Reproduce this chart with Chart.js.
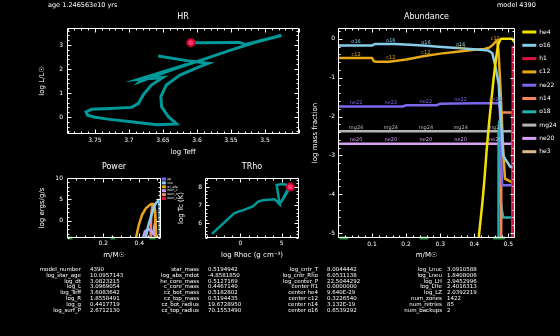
<!DOCTYPE html>
<html><head><meta charset="utf-8">
<script src="https://cdn.jsdelivr.net/npm/chart.js@4/dist/chart.umd.min.js"></script>
<style>
html,body{margin:0;padding:0;background:#000;}
#wrap{position:relative;width:560px;height:336px;background:#000;overflow:hidden;font-family:"DejaVu Sans",sans-serif;color:#fff;}
canvas{position:absolute;}
.t{position:absolute;white-space:nowrap;color:#fff;will-change:transform;-webkit-font-smoothing:antialiased;}
.col{position:absolute;top:267px;font-size:5.5px;line-height:5.8px;white-space:nowrap;color:#fff;will-change:transform;}
.nm{text-align:right;width:120px;}
</style></head><body>
<div id="wrap">
  <div class="t" id="age" style="left:48px;top:1px;font-size:6.5px;"></div>
  <div class="t" id="model" style="left:497px;top:1px;font-size:6.5px;"></div>
  <canvas id="hr" width="305" height="150" style="left:0;top:10px"></canvas>
  <canvas id="trho" width="135" height="103" style="left:170px;top:160px"></canvas>
  <canvas id="power" width="181" height="103" style="left:0;top:160px"></canvas>
  <canvas id="abund" width="255" height="252" style="left:305px;top:10px"></canvas>
  <div id="table"></div>
</div>
<script>
// ---------------- data ----------------
const ageText = 'age 1.246563e10 yrs';
const modelText = 'model 4390';

// HR diagram track
const hrLogTeff = [3.657,3.615,3.583,3.596,3.625,3.645,3.653,3.652,3.642,3.630,3.659,3.694,3.728,3.750,3.761,3.763,3.755,3.728,3.696,3.686,3.679,3.667,3.650,3.686,3.615,3.684,3.679,3.635,3.596,3.547,3.507,3.476,3.507,3.529,3.537,3.596,3.609];
const hrLogL    = [2.54,2.35,2.24,2.10,1.75,1.33,0.85,0.43,0.01,-0.29,-0.32,-0.21,-0.10,-0.01,0.07,0.21,0.32,0.35,0.40,0.57,0.92,1.33,1.65,1.57,2.19,1.47,1.60,1.99,2.35,2.82,3.18,3.40,3.17,3.02,3.11,3.10,3.10];
const hrXTicks = [3.75,3.7,3.65,3.6,3.55,3.5];
const hrYTicks = [0,1,2,3];

// central T - Rho track
const trhoLogRho = [-3.45,-2.35,-0.73,0.49,1.5,2.11,2.72,4.15,4.76,4.39,5.04,5.98,4.88,6.05];
const trhoLogT   = [5.43,5.89,6.57,6.76,6.94,7.19,7.28,7.33,7.06,8.11,8.17,8.09,7.13,8.00];
const trhoXTicks = [0,5];
const trhoYTicks = [6,7,8];

// Power profiles
const powerXTicks = [0.2,0.4];
const powerYTicks = [0,5,10];
const powerNames = ['pp','cno','tri_alfa','burn_c','burn_n','burn_o'];
const ppMass = [0.517,0.5175];            const ppLog = [-4,6.8];
const cnoMass = [0.436,0.447,0.458,0.47,0.481,0.495,0.504,0.51,0.512,0.514];
const cnoLog  = [-3.8,-1.5,0.2,1.8,3.3,4.3,4.7,4.2,3.3,-4];
const triMass = [0.382,0.397,0.415,0.436,0.463,0.477,0.486,0.49,0.493];
const triLog  = [-3.8,-0.9,1.4,2.95,3.9,3.95,2.6,-0.5,-4];
const burnCMass = [0.42,0.43,0.449,0.463,0.475,0.481,0.49,0.495];
const burnCLog  = [-4,-2.5,-1.9,-2.3,-3,-1.7,-3.5,-4];
const burnNMass = [0.462,0.466,0.472,0.48,0.486,0.49];
const burnNLog  = [-4,1.5,3.5,3.7,2.5,-4];
const burnOMass = [0.516,0.5165];         const burnOLog = [-4,2.6];

// mixing regions (bottom markers)
const mixStart = [0.005,0.24,0.455];
const mixEnd   = [0.03,0.265,0.49];

// Abundance profiles
const abundXTicks = [0.1,0.2,0.3,0.4,0.5];
const abundYTicks = [0,-1,-2,-3,-4,-5];
const he4Mass = [0.41,0.413,0.418,0.424,0.43,0.436,0.443,0.45,0.457,0.464,0.47,0.476,0.48,0.511,0.5127];
const he4Log  = [-5.5,-5.13,-4.7,-4.2,-3.6,-2.9,-2.2,-1.6,-1.0,-0.5,-0.15,-0.02,0,0,-0.02];
const o16Mass = [0,0.1,0.109,0.168,0.21,0.26,0.294,0.36,0.418,0.441,0.453,0.462,0.472,0.475,0.48,0.485,0.491,0.506,0.512];
const o16Log  = [-0.17,-0.17,-0.13,-0.13,-0.15,-0.18,-0.2,-0.24,-0.28,-0.3,-0.37,-0.71,-1.18,-1.74,-2.33,-3.0,-3.1,-3.3,-3.3];
const h1Mass = [0.5124,0.5126,0.5128,0.5195];
const h1Log  = [-5.5,-1.9,-0.2,-0.2];
const c12Mass = [0,0.1,0.105,0.11,0.15,0.2,0.25,0.3,0.35,0.4,0.43,0.445,0.455,0.462,0.467,0.471,0.474,0.477,0.48,0.485,0.49,0.512];
const c12Log  = [-0.49,-0.49,-0.57,-0.59,-0.59,-0.53,-0.45,-0.38,-0.33,-0.28,-0.26,-0.22,-0.15,-0.08,-0.04,-0.3,-0.8,-1.3,-1.9,-2.9,-3.6,-3.7];
const ne22Mass = [0,0.19,0.2,0.29,0.3,0.4,0.472,0.475,0.477,0.479,0.482,0.512];
const ne22Log  = [-1.74,-1.74,-1.71,-1.71,-1.67,-1.66,-1.66,-1.8,-2.5,-3.3,-3.77,-3.77];
const n14Mass = [0.4785,0.479,0.5125,0.5128,0.5195];
const n14Log  = [-5.5,-1.9,-1.9,-3.0,-3.0];
const o18Mass = [0.47,0.4705,0.472,0.474,0.476,0.4765,0.478,0.481,0.485,0.5125];
const o18Log  = [-5.5,-3.5,-2.4,-2.1,-2.5,-4.1,-4.15,-4.4,-4.6,-4.6];
const mg24Mass = [0,0.5195];  const mg24Log = [-2.38,-2.38];
const ne20Mass = [0,0.5195];  const ne20Log = [-2.7,-2.7];
const he3Mass = [0.5126,0.5127,0.5195]; const he3Log = [-5.5,-2.4,-4.3];
const lineLabelMass = {
  o16:[0.053,0.155,0.258,0.36],
  c12:[0.053,0.155,0.258,0.36,0.462],
  ne22:[0.053,0.155,0.258,0.36,0.462],
  mg24:[0.053,0.155,0.258,0.36,0.462],
  ne20:[0.053,0.155,0.258,0.36,0.462]
};

// text table
const col1Names = ['model_number','log_star_age','log_dt','log_L','log_Teff','log_R','log_g','log_surf_P'];
const col1Vals  = ['4390','10.0957143','3.0823215','3.0969054','3.6083642','1.8558491','0.4417719','2.6712130'];
const col2Names = ['star_mass','log_abs_mdot','he_core_mass','c_core_mass','cz_bot_mass','cz_top_mass','cz_bot_radius','cz_top_radius'];
const col2Vals  = ['0.5194942','-4.8581850','0.5127169','0.4467140','0.5182802','0.5194435','19.6728950','70.1553490'];
const col3Names = ['log_cntr_T','log_cntr_Rho','log_center_P','center h1','center he4','center c12','center n14','center o16'];
const col3Vals  = ['8.0044442','6.0531138','22.5044292','0.0000000','9.640E-29','0.3226540','3.132E-19','0.6539292'];
const col4Names = ['log_Lnuc','log_Lneu','log_LH','log_LHe','log_LZ','num_zones','num_retries','num_backups'];
const col4Vals  = ['3.0910588','1.8408006','2.9452996','2.4016313','2.0392219','1422','85','2'];

// ---------------- helpers ----------------
Chart.defaults.font.family = '"DejaVu Sans", sans-serif';
Chart.defaults.color = '#fff';
const pts = (xs, ys) => xs.map((x,i) => ({x:x, y:ys[i]}));
const mixPts = (yv) => { const o=[]; mixStart.forEach((s,i)=>{ o.push({x:s,y:yv},{x:mixEnd[i],y:yv},{x:mixEnd[i],y:null}); }); return o; };

function scale(o){
  return {
    type:'linear', min:o.min, max:o.max, reverse:!!o.reverse,
    afterBuildTicks: s => { s.ticks = o.ticks.map(v=>({value:v})); },
    afterFit: s => { if (o.isY) s.width = o.size; else s.height = o.size; },
    grid:{display:false, drawTicks:false}, border:{display:false},
    ticks:{color:'#fff', font:{size:6}, padding:o.tickPad, autoSkip:false, maxRotation:0, minRotation:0, callback:v=>String(v)},
    title:{display:true, text:o.title, color:'#fff', font:{size:7}, padding:o.titlePad}
  };
}
function titleOpt(text){
  return {display:true, text:text, color:'#fff', font:{size:8, weight:'normal'}, padding:{top:2.2,bottom:6.2}, fullSize:false};
}
const framePlugin = {
  id:'frame',
  afterDatasetsDraw(chart, args, o){
    const {ctx, chartArea:a} = chart; const xs=chart.scales.x, ys=chart.scales.y;
    const L=Math.round(a.left)+0.5, R=Math.round(a.right)-0.5, T=Math.round(a.top)+0.5, B=Math.round(a.bottom)-0.5;
    ctx.save(); ctx.strokeStyle='#fff'; ctx.lineWidth=1; ctx.beginPath(); ctx.rect(L,T,R-L,B-T);
    const each=(sc,minor,major,fn)=>{ const lo=Math.min(sc.min,sc.max), hi=Math.max(sc.min,sc.max);
      const n0=Math.ceil(lo/minor-1e-6), n1=Math.floor(hi/minor+1e-6);
      for(let n=n0;n<=n1;n++){ const v=n*minor; const maj=Math.abs(v/major-Math.round(v/major))<1e-6;
        fn(Math.round(sc.getPixelForValue(v))+0.5, maj?4:2); } };
    each(xs,o.xMinor,o.xMajor,(p,len)=>{ ctx.moveTo(p,B); ctx.lineTo(p,B-len); ctx.moveTo(p,T); ctx.lineTo(p,T+len); });
    each(ys,o.yMinor,o.yMajor,(p,len)=>{ ctx.moveTo(L,p); ctx.lineTo(L+len,p); ctx.moveTo(R,p); ctx.lineTo(R-len,p); });
    ctx.stroke(); ctx.restore();
  }
};
function interp(data, xv){
  for (let i=0;i<data.length-1;i++){ const a=data[i], b=data[i+1];
    if (a.y==null||b.y==null) continue;
    if ((a.x<=xv&&xv<=b.x)){ if (b.x===a.x) return a.y; return a.y+(b.y-a.y)*(xv-a.x)/(b.x-a.x); } }
  return data[data.length-1].y;
}
const labelPlugin = {
  id:'lineLabels',
  afterDatasetsDraw(chart, args, o){
    if (!o.items) return;
    const {ctx} = chart; const xs=chart.scales.x, ys=chart.scales.y;
    ctx.save(); ctx.font='5px "DejaVu Sans"'; ctx.textAlign='center'; ctx.textBaseline='bottom';
    chart.data.datasets.forEach(ds=>{ const ms=o.items[ds.label]; if(!ms) return; ctx.fillStyle=ds.borderColor;
      ms.forEach(m=>{ ctx.fillText(ds.label, xs.getPixelForValue(m), ys.getPixelForValue(interp(ds.data,m))-1); }); });
    ctx.restore();
  }
};
const base = {responsive:false, animation:false, devicePixelRatio:1, layout:{padding:0}};
const line = (label, data, color, w) => ({label, data, borderColor:color, backgroundColor:color, borderWidth:w, pointRadius:0, showLine:true, tension:0, fill:false});
const teal = '#00999a';

// ---------------- HR ----------------
new Chart(document.getElementById('hr'), {
  type:'scatter',
  data:{datasets:[
    {label:'now', data:[{x:hrLogTeff[hrLogTeff.length-1], y:hrLogL[hrLogL.length-1]}], pointRadius:3.5, backgroundColor:'#ff3a6a', borderColor:'#d4002c', borderWidth:2, showLine:false},
    line('track', pts(hrLogTeff,hrLogL), teal, 3)
  ]},
  options:Object.assign({}, base, {
    layout:{padding:{right:6}},
    plugins:{legend:{display:false}, tooltip:{enabled:false}, title:titleOpt('HR'),
      frame:{xMinor:0.01,xMajor:0.05,yMinor:0.2,yMajor:1}},
    scales:{
      x:scale({min:3.45,max:3.791,reverse:true,ticks:hrXTicks,size:26,tickPad:2.5,title:'log Teff',titlePad:{top:0,bottom:4.1}}),
      y:scale({min:-0.71,max:3.71,ticks:hrYTicks,isY:true,size:67,tickPad:4,title:'log L/L\u2609',titlePad:{top:37.8,bottom:0}})
    }
  }),
  plugins:[framePlugin]
});

// ---------------- TRho ----------------
new Chart(document.getElementById('trho'), {
  type:'scatter',
  data:{datasets:[
    {label:'now', data:[{x:trhoLogRho[trhoLogRho.length-1], y:trhoLogT[trhoLogT.length-1]}], pointRadius:3.5, backgroundColor:'#ff3a6a', borderColor:'#d4002c', borderWidth:2, showLine:false},
    line('track', pts(trhoLogRho,trhoLogT), teal, 2.5)
  ]},
  options:Object.assign({}, base, {
    layout:{padding:{right:6}},
    plugins:{legend:{display:false}, tooltip:{enabled:false}, title:titleOpt('TRho'),
      frame:{xMinor:1,xMajor:5,yMinor:0.2,yMajor:1}},
    scales:{
      x:scale({min:-4.3,max:7.1,ticks:trhoXTicks,size:25,tickPad:2,title:'log Rhoc (g cm\u207B\u00B3)',titlePad:{top:0,bottom:3.8}}),
      y:scale({min:5.2,max:8.5,ticks:trhoYTicks,isY:true,size:35,tickPad:3,title:'log Tc (K)',titlePad:{top:6.8,bottom:0}})
    }
  }),
  plugins:[framePlugin]
});

// ---------------- Power ----------------
const powerColors = ['#7b68ee','#87cefa','#e6a817','#c8a2f0','#f4845f','#dc143c'];
const powerData = [pts(ppMass,ppLog), pts(cnoMass,cnoLog), pts(triMass,triLog), pts(burnCMass,burnCLog), pts(burnNMass,burnNLog), pts(burnOMass,burnOLog)];
const powerSets = powerNames.map((n,i)=>line(n, powerData[i], powerColors[i], 2.5));
powerSets.push(Object.assign(line('mix', mixPts(-4), '#1e8c3c', 3), {clip:false, spanGaps:false}));
new Chart(document.getElementById('power'), {
  type:'scatter',
  data:{datasets:powerSets},
  options:Object.assign({}, base, {
    plugins:{tooltip:{enabled:false}, title:titleOpt('Power'),
      legend:{display:true, position:'right', align:'start', maxWidth:20,
        title:{display:true, text:'', font:{size:1}, padding:{top:15.4,bottom:0}},
        labels:{color:'#fff', font:{size:3}, boxWidth:4, boxHeight:3, padding:0.9,
          generateLabels: ch => Chart.defaults.plugins.legend.labels.generateLabels(ch).map(l=>Object.assign(l,{lineWidth:0, fillStyle:l.strokeStyle})),
          filter: it => it.text !== 'mix'}},
      frame:{xMinor:0.05,xMajor:0.2,yMinor:1,yMajor:5}},
    scales:{
      x:scale({min:0,max:0.5195,ticks:powerXTicks,size:25,tickPad:2,title:'m/M\u2609',titlePad:{top:0,bottom:3.8}}),
      y:scale({min:-4,max:10,ticks:powerYTicks,isY:true,size:67,tickPad:4,title:'log ergs/g/s',titlePad:{top:37.8,bottom:0}})
    }
  }),
  plugins:[framePlugin]
});

// ---------------- Abundance ----------------
const abundSets = [
  line('he4', pts(he4Mass,he4Log), '#f5e000', 2.5),
  line('o16', pts(o16Mass,o16Log), '#87cdea', 2.5),
  line('h1', pts(h1Mass,h1Log), '#dc143c', 2.5),
  line('c12', pts(c12Mass,c12Log), '#e6a817', 2.5),
  line('ne22', pts(ne22Mass,ne22Log), '#7b68ee', 2.5),
  line('n14', pts(n14Mass,n14Log), '#f4845f', 2.5),
  line('o18', pts(o18Mass,o18Log), '#20b2aa', 2.5),
  line('mg24', pts(mg24Mass,mg24Log), '#b4b4b4', 2.5),
  line('ne20', pts(ne20Mass,ne20Log), '#d6a0f0', 2.5),
  line('he3', pts(he3Mass,he3Log), '#deb887', 2.5),
  Object.assign(line('mix', mixPts(-5.13), '#1e8c3c', 3), {clip:false, spanGaps:false})
];
new Chart(document.getElementById('abund'), {
  type:'scatter',
  data:{datasets:abundSets},
  options:Object.assign({}, base, {
    plugins:{tooltip:{enabled:false}, title:titleOpt('Abundance'),
      legend:{display:true, position:'right', align:'start', maxWidth:45,
        title:{display:true, text:'', font:{size:1}, padding:{top:10.5,bottom:0}},
        labels:{color:'#fff', font:{size:6}, boxWidth:14, padding:7.3, usePointStyle:true, pointStyle:'line', pointStyleWidth:14,
          generateLabels: ch => Chart.defaults.plugins.legend.labels.generateLabels(ch).map(l=>Object.assign(l,{lineWidth:3})),
          filter: it => it.text !== 'mix'}},
      frame:{xMinor:0.02,xMajor:0.1,yMinor:0.2,yMajor:1},
      lineLabels:{items:lineLabelMass}},
    scales:{
      x:scale({min:0,max:0.5195,ticks:abundXTicks,size:24,tickPad:2.5,title:'m/M\u2609',titlePad:{top:0,bottom:2.8}}),
      y:scale({min:-5.13,max:0.28,ticks:abundYTicks,isY:true,size:33,tickPad:3,title:'log mass fraction',titlePad:{top:5.8,bottom:0}})
    }
  }),
  plugins:[framePlugin, labelPlugin]
});

// ---------------- text ----------------
document.getElementById('age').textContent = ageText;
document.getElementById('model').textContent = modelText;
const tbl = document.getElementById('table');
[[col1Names,col1Vals,81,90],[col2Names,col2Vals,199,208],[col3Names,col3Vals,318,327],[col4Names,col4Vals,442,447]].forEach(c=>{
  const n=document.createElement('div'); n.className='col nm'; n.style.left=(c[2]-120)+'px'; n.innerHTML=c[0].join('<br>'); tbl.appendChild(n);
  const v=document.createElement('div'); v.className='col'; v.style.left=c[3]+'px'; v.innerHTML=c[1].join('<br>'); tbl.appendChild(v);
});
</script>
</body></html>
